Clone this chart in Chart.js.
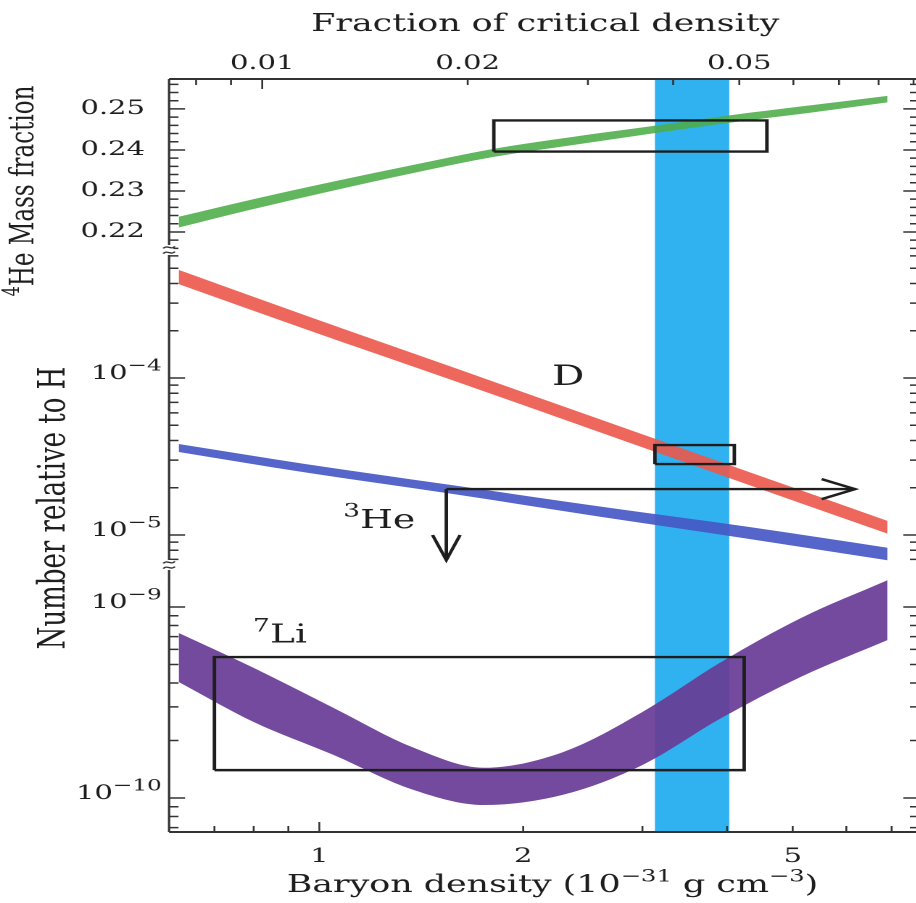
<!DOCTYPE html>
<html>
<head>
<meta charset="utf-8">
<script src="https://cdn.jsdelivr.net/npm/chart.js@4/dist/chart.umd.min.js"></script>
<style>
  html, body { margin: 0; padding: 0; background: #fff; overflow: hidden; }
  /* the printed figure is set wide: draw it narrow and widen it */
  #wrap { position: absolute; left: 0; top: 0; width: 636px; height: 903px;
          transform: scaleX(1.45); transform-origin: 0 0; }
</style>
</head>
<body>
<div id="wrap"><canvas id="chart" width="636" height="903"></canvas></div>
<script>
// Baryon density axis (units of 1e-31 g cm^-3) and its critical-density equivalent
const densityRange = [0.612, 7.69];
const criticalDensity = 83.8;
const bottomTickLabels = [1, 2, 5];
const topTickLabels = [0.01, 0.02, 0.05];

// Vertical ranges of the three panels
const heRange = [0.2156, 0.2573];
const dhRange = [6.44e-6, 6.535e-4];
const liRange = [6.64e-11, 1.659e-9];
const heTickLabels = [0.22, 0.23, 0.24, 0.25];

// 4He mass fraction band
const heDensity = [0.62, 0.80, 1.05, 1.38, 1.81, 2.37, 3.10, 4.06, 5.32, 6.90];
const heUpper   = [0.2237, 0.2280, 0.2323, 0.2364, 0.2403, 0.2432, 0.2458, 0.2485, 0.2509, 0.2532];
const heLower   = [0.2211, 0.2256, 0.2301, 0.2344, 0.2383, 0.2412, 0.2440, 0.2467, 0.2491, 0.2516];

// Deuterium band
const dDensity = [0.62, 0.95, 1.58, 2.62, 4.34, 6.90];
const dUpper   = [4.88e-4, 2.52e-4, 1.165e-4, 5.38e-5, 2.49e-5, 1.23e-5];
const dLower   = [3.96e-4, 2.06e-4, 9.6e-5, 4.45e-5, 2.06e-5, 1.02e-5];

// Helium-3 band
const he3Density = [0.62, 0.95, 1.58, 2.62, 4.34, 6.90];
const he3Upper   = [3.80e-5, 2.84e-5, 2.07e-5, 1.51e-5, 1.12e-5, 8.3e-6];
const he3Lower   = [3.38e-5, 2.51e-5, 1.82e-5, 1.30e-5, 9.4e-6, 6.9e-6];

// Lithium-7 band
const liDensity = [0.62, 0.80, 1.05, 1.38, 1.75, 2.29, 3.00, 3.92, 5.14, 6.90];
const liUpper   = [7.31e-10, 4.80e-10, 2.96e-10, 1.83e-10, 1.44e-10, 1.74e-10, 2.82e-10, 5.15e-10, 8.75e-10, 1.38e-9];
const liLower   = [4.05e-10, 2.50e-10, 1.68e-10, 1.10e-10, 9.19e-11, 1.04e-10, 1.49e-10, 2.62e-10, 4.31e-10, 6.71e-10];

// Observational boxes, limits and the concordance band
const heBoxDensity = [1.81, 4.58];
const heBoxValue   = [0.2396, 0.2472];
const dBoxDensity  = [3.13, 4.10];
const dBoxValue    = [2.83e-5, 3.74e-5];
const liBoxDensity = [0.70, 4.24];
const liBoxValue   = [1.40e-10, 5.47e-10];
const limitDensity   = [1.54, 6.18];
const limitAbundance = [1.96e-5, 6.93e-6];
const bandDensity = [3.13, 4.03];

const SERIF = "'DejaVu Serif', 'Liberation Serif', serif";
const INK = '#1e1e1e';

const xy = (xs, ys) => xs.map((x, i) => ({ x, y: ys[i] }));
const rect = (xs, ys) => [
  { x: xs[0], y: ys[0] }, { x: xs[1], y: ys[0] }, { x: xs[1], y: ys[1] },
  { x: xs[0], y: ys[1] }, { x: xs[0], y: ys[0] }
];
const outline = (label, data, axis) => ({
  label, data, yAxisID: axis, borderColor: INK, borderWidth: 2.4,
  pointRadius: 0, fill: false, tension: 0
});
const edge = (label, data, axis, color, filled) => ({
  label, data, yAxisID: axis, borderColor: 'rgba(0,0,0,0)', borderWidth: 0,
  backgroundColor: color, pointRadius: 0, cubicInterpolationMode: 'monotone',
  fill: filled ? '-1' : false
});

const GREEN = 'rgba(76,172,72,0.88)';
const RED = 'rgba(236,86,74,0.9)';
const BLUE = 'rgba(70,88,196,0.92)';
const PURPLE = 'rgba(104,60,150,0.93)';

const datasets = [
  outline('He box', rect(heBoxDensity, heBoxValue), 'yHe'),
  outline('D box', rect(dBoxDensity, dBoxValue), 'yDH'),
  outline('Li box', rect(liBoxDensity, liBoxValue), 'yLi'),
  outline('limit across', xy(limitDensity, [limitAbundance[0], limitAbundance[0]]), 'yDH'),
  outline('limit down', xy([limitDensity[0], limitDensity[0]], limitAbundance), 'yDH'),
  edge('He upper', xy(heDensity, heUpper), 'yHe', GREEN, false),
  edge('He lower', xy(heDensity, heLower), 'yHe', GREEN, true),
  edge('D upper', xy(dDensity, dUpper), 'yDH', RED, false),
  edge('D lower', xy(dDensity, dLower), 'yDH', RED, true),
  edge('He3 upper', xy(he3Density, he3Upper), 'yDH', BLUE, false),
  edge('He3 lower', xy(he3Density, he3Lower), 'yDH', BLUE, true),
  edge('Li upper', xy(liDensity, liUpper), 'yLi', PURPLE, false),
  edge('Li lower', xy(liDensity, liLower), 'yLi', PURPLE, true)
];

const near = (v, list) => list.find(t => Math.abs(v - t) < t * 1e-6);

// mixed normal / superscript text
function drawRich(ctx, parts, x, y, align, size, supScale = 0.7) {
  let total = 0;
  const widths = parts.map(([t, sup]) => {
    ctx.font = `${sup ? size * supScale : size}px ${SERIF}`;
    const w = ctx.measureText(t).width; total += w; return w;
  });
  let cx = align === 'right' ? x - total : align === 'center' ? x - total / 2 : x;
  ctx.textAlign = 'left';
  ctx.textBaseline = 'alphabetic';
  parts.forEach(([t, sup], i) => {
    ctx.font = `${sup ? size * supScale : size}px ${SERIF}`;
    ctx.fillText(t, cx, sup ? y - size * 0.43 : y);
    cx += widths[i];
  });
}

function logTicks(min, max) {
  const out = [];
  for (let e = Math.floor(Math.log10(min)); e <= Math.ceil(Math.log10(max)); e++) {
    for (let m = 1; m <= 9; m++) {
      const v = m * Math.pow(10, e);
      if (v >= min && v <= max) out.push({ v, major: m === 1 });
    }
  }
  return out;
}

const decor = {
  id: 'decor',
  beforeDatasetsDraw(chart) {
    const { ctx, chartArea: a, scales } = chart;
    const x0 = scales.x.getPixelForValue(bandDensity[0]);
    const x1 = scales.x.getPixelForValue(bandDensity[1]);
    ctx.save();
    ctx.fillStyle = '#31b2f0';
    ctx.fillRect(x0, a.top, x1 - x0, a.bottom - a.top);
    ctx.restore();
  },
  afterDatasetsDraw(chart) {
    const { ctx } = chart;
    const across = chart.getDatasetMeta(3).data[1];
    const down = chart.getDatasetMeta(4).data[1];
    ctx.save();
    ctx.strokeStyle = INK; ctx.lineWidth = 2.4; ctx.lineJoin = 'miter';
    ctx.beginPath();
    ctx.moveTo(across.x - 23, across.y - 10); ctx.lineTo(across.x, across.y); ctx.lineTo(across.x - 23, across.y + 10);
    ctx.moveTo(down.x - 9.5, down.y - 25); ctx.lineTo(down.x, down.y); ctx.lineTo(down.x + 9.5, down.y - 25);
    ctx.stroke();
    ctx.restore();
  },
  afterDraw(chart) {
    const { ctx, chartArea: a, scales } = chart;
    ctx.save();
    ctx.strokeStyle = '#333';
    ctx.fillStyle = INK;

    // frame
    ctx.lineWidth = 2;
    ctx.beginPath();
    ctx.moveTo(a.left, a.top); ctx.lineTo(a.right, a.top);
    ctx.moveTo(a.left, a.bottom); ctx.lineTo(a.right, a.bottom);
    ctx.stroke();
    ctx.lineWidth = 1.6;
    ctx.beginPath();
    ctx.moveTo(a.left, a.top); ctx.lineTo(a.left, a.bottom);
    ctx.moveTo(a.right, a.top); ctx.lineTo(a.right, a.bottom);
    ctx.stroke();

    // inward ticks on the left and right edges
    const yTicks = [
      ['yHe', (() => { const t = []; for (let k = 108; k <= 128; k++) t.push({ v: k * 0.002, major: k % 5 === 0 }); return t; })()],
      ['yDH', logTicks(dhRange[0], dhRange[1])],
      ['yLi', logTicks(liRange[0], liRange[1])]
    ];
    ctx.lineWidth = 1.5;
    ctx.beginPath();
    yTicks.forEach(([id, list]) => {
      const s = scales[id];
      list.forEach(({ v, major }) => {
        const y = s.getPixelForValue(v);
        if (y < s.top + 1 || y > s.bottom - 1) return;
        const len = major ? 11 : 6.5;
        ctx.moveTo(a.left, y); ctx.lineTo(a.left + len, y);
        ctx.moveTo(a.right, y); ctx.lineTo(a.right - len, y);
      });
    });
    ctx.stroke();

    // inward ticks on the top and bottom edges
    ctx.lineWidth = 1.3;
    ctx.beginPath();
    logTicks(densityRange[0], densityRange[1]).forEach(({ v, major }) => {
      const x = scales.x.getPixelForValue(v);
      const len = major ? 10 : 6;
      ctx.moveTo(x, a.bottom); ctx.lineTo(x, a.bottom - len);
    });
    logTicks(densityRange[0] / criticalDensity, densityRange[1] / criticalDensity).forEach(({ v, major }) => {
      const x = scales.xTop.getPixelForValue(v);
      const len = major ? 10 : 6;
      ctx.moveTo(x, a.top); ctx.lineTo(x, a.top + len);
    });
    ctx.stroke();

    // axis breaks between panels
    [scales.yDH.top, scales.yLi.top].forEach(y => {
      ctx.fillStyle = '#fff';
      ctx.fillRect(a.left - 3, y - 5, 6, 10);
      ctx.lineWidth = 1.3;
      ctx.beginPath();
      [-2.6, 2.6].forEach(dy => {
        ctx.moveTo(a.left - 4, y + dy + 1);
        ctx.bezierCurveTo(a.left - 1.5, y + dy - 3, a.left + 1.5, y + dy + 3, a.left + 4, y + dy - 1);
      });
      ctx.stroke();
    });
    ctx.fillStyle = INK;

    // power-of-ten labels of the logarithmic panels
    [['yDH', dhRange], ['yLi', liRange]].forEach(([id, r]) => {
      const s = scales[id];
      for (let e = Math.ceil(Math.log10(r[0])); e <= Math.floor(Math.log10(r[1])); e++) {
        const y = s.getPixelForValue(Math.pow(10, e));
        drawRich(ctx, [['10', 0], ['\u2212' + Math.abs(e), 1]], a.left - 5, y + 1, 'right', 20, 0.8);
      }
    });

    // species labels
    const px = v => scales.x.getPixelForValue(v);
    drawRich(ctx, [['D', 0]], px(2.33), scales.yDH.getPixelForValue(9.0e-5), 'center', 28);
    drawRich(ctx, [['3', 1], ['He', 0]], px(1.226), scales.yDH.getPixelForValue(1.11e-5), 'center', 26);
    drawRich(ctx, [['7', 1], ['Li', 0]], px(0.875), scales.yLi.getPixelForValue(6.5e-10), 'center', 26);

    // axis titles
    drawRich(ctx, [['Fraction of critical density', 0]], 376, 31, 'center', 24);
    drawRich(ctx, [['Baryon density (10', 0], ['\u221231', 1], [' g cm', 0], ['\u22123', 1], [')', 0]], 381, 892, 'center', 24);

    ctx.save();
    ctx.translate(22.8, 191);
    ctx.rotate(-Math.PI / 2);
    drawRich(ctx, [['4', 1], ['He Mass fraction', 0]], 0, 0, 'center', 23);
    ctx.restore();
    ctx.save();
    ctx.translate(44.5, 508);
    ctx.rotate(-Math.PI / 2);
    drawRich(ctx, [['Number relative to H', 0]], 0, 0, 'center', 26);
    ctx.restore();

    ctx.restore();
  }
};

const tickFont = { family: SERIF, size: 20 };
const hidden = { display: false, drawTicks: false };
// label padding must not eat into the plot width
const noSidePadding = h => s => { s.height = h; s.paddingLeft = 0; s.paddingRight = 0; };

new Chart(document.getElementById('chart'), {
  type: 'line',
  data: { datasets },
  plugins: [decor],
  options: {
    responsive: false,
    devicePixelRatio: 2,
    animation: false,
    events: [],
    layout: { padding: { left: 0, right: 2, top: 0, bottom: 0 } },
    plugins: { legend: { display: false }, tooltip: { enabled: false } },
    scales: {
      x: {
        type: 'logarithmic', position: 'bottom',
        min: densityRange[0], max: densityRange[1],
        grid: hidden, border: { display: false },
        ticks: {
          autoSkip: false, maxRotation: 0, padding: 13, font: tickFont, color: INK,
          callback: v => { const t = near(v, bottomTickLabels); return t ? String(t) : ''; }
        },
        afterFit: noSidePadding(71)
      },
      xTop: {
        type: 'logarithmic', position: 'top',
        min: densityRange[0] / criticalDensity, max: densityRange[1] / criticalDensity,
        grid: hidden, border: { display: false },
        ticks: {
          autoSkip: false, maxRotation: 0, padding: 3, font: tickFont, color: INK,
          callback: v => { const t = near(v, topTickLabels); return t ? t.toFixed(2) : ''; }
        },
        afterFit: noSidePadding(79)
      },
      yLi: {
        type: 'logarithmic', position: 'left', stack: 'abundance', stackWeight: 267,
        min: liRange[0], max: liRange[1],
        grid: hidden, border: { display: false }, ticks: { display: false },
        afterFit: s => { s.width = 116.6; }
      },
      yDH: {
        type: 'logarithmic', position: 'left', stack: 'abundance', stackWeight: 315,
        min: dhRange[0], max: dhRange[1],
        grid: hidden, border: { display: false }, ticks: { display: false },
        afterFit: s => { s.width = 116.6; }
      },
      yHe: {
        type: 'linear', position: 'left', stack: 'abundance', stackWeight: 171,
        min: heRange[0], max: heRange[1],
        grid: hidden, border: { display: false },
        ticks: {
          stepSize: 0.01, includeBounds: false, padding: 16.6, font: tickFont, color: INK,
          callback: v => { const t = near(v, heTickLabels); return t ? t.toFixed(2) : ''; }
        },
        afterFit: s => { s.width = 116.6; }
      }
    }
  }
});
</script>
</body>
</html>
